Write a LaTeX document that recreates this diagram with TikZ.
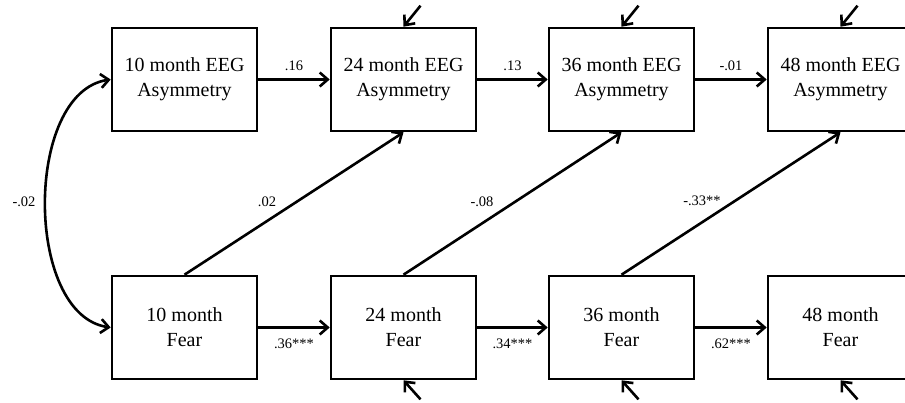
\documentclass[tikz,border=0pt]{standalone}
\usepackage{fontspec}
\setmainfont{Liberation Serif}
\usetikzlibrary{arrows.meta,calc}
\begin{document}
\begin{tikzpicture}[x=1pt,y=-1pt,
  box/.style={draw,line width=2.6pt,minimum width=145pt,minimum height=103pt,align=center,font=\fontsize{20}{25}\selectfont,inner sep=0pt},
  conn/.style={line width=2.6pt,-{Straight Barb[length=8pt,width=14pt]}},
  lab/.style={font=\fontsize{14.5}{17}\selectfont,inner sep=1pt}]
\useasboundingbox (0,0) rectangle (905,403);
\node[box] (e10) at (184.5,79.5) {10 month EEG\\Asymmetry};
\node[box] (e24) at (403.5,79.5) {24 month EEG\\Asymmetry};
\node[box] (e36) at (621.5,79.5) {36 month EEG\\Asymmetry};
\node[box] (e48) at (840.5,79.5) {48 month EEG\\Asymmetry};
\node[box] (f10) at (184.5,327.5) {10 month\\Fear};
\node[box] (f24) at (403.5,327.5) {24 month\\Fear};
\node[box] (f36) at (621.5,327.5) {36 month\\Fear};
\node[box] (f48) at (840.5,327.5) {48 month\\Fear};
% horizontal paths
\draw[conn] (e10.east) -- node[lab,above=6pt] {.16} (e24.west);
\draw[conn] (e24.east) -- node[lab,above=6pt] {.13} (e36.west);
\draw[conn] (e36.east) -- node[lab,above=6pt] {-.01} (e48.west);
\draw[conn] (f10.east) -- node[lab,below=9pt] {.36***} (f24.west);
\draw[conn] (f24.east) -- node[lab,below=9pt] {.34***} (f36.west);
\draw[conn] (f36.east) -- node[lab,below=9pt] {.62***} (f48.west);
% cross-lagged paths
\draw[conn] (f10.north) -- (e24.south);
\draw[conn] (f24.north) -- (e36.south);
\draw[conn] (f36.north) -- (e48.south);
\node[lab] (l1) at (267,202) {.02};
\node[lab] (l2) at (482,202) {-.08};
\node[lab] (l3) at (702,201) {-.33**};
% covariance
\draw[line width=2.6pt,{Straight Barb[length=8pt,width=14pt]}-{Straight Barb[length=8pt,width=14pt]}] (e10.west) .. controls (24,92) and (24,315) .. (f10.west);
\node[lab] (l0) at (24,202) {-.02};
% disturbances
\coordinate (d24) at ($(e24.north)+(17,-21)$);
\coordinate (d36) at ($(e36.north)+(17,-21)$);
\coordinate (d48) at ($(e48.north)+(17,-21)$);
\coordinate (g24) at ($(f24.south)+(17,19)$);
\coordinate (g36) at ($(f36.south)+(17,19)$);
\coordinate (g48) at ($(f48.south)+(17,19)$);
\draw[conn] (d24) -- (e24.north);
\draw[conn] (d36) -- (e36.north);
\draw[conn] (d48) -- (e48.north);
\draw[conn] (g24) -- (f24.south);
\draw[conn] (g36) -- (f36.south);
\draw[conn] (g48) -- (f48.south);
\end{tikzpicture}
\end{document}
